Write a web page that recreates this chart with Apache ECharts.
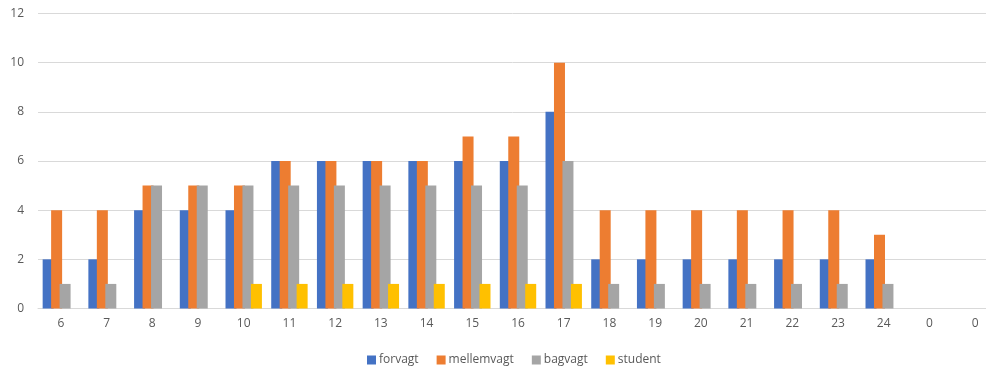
<!DOCTYPE html>
<html>
<head>
<meta charset="utf-8">
<script src="https://cdn.jsdelivr.net/npm/echarts@6/dist/echarts.min.js"></script>
<style>
  html, body { margin: 0; padding: 0; background: #fff; }
  #chart { width: 986px; height: 370px; }
</style>
</head>
<body>
<div id="chart"></div>
<script>
  // hours of the day
  const categories = ['6', '7', '8', '9', '10', '11', '12', '13', '14', '15', '16', '17', '18', '19', '20', '21', '22', '23', '24', '0', '0']
  const forvagt    = [2, 2, 4, 4, 4, 6, 6, 6, 6, 6, 6, 8, 2, 2, 2, 2, 2, 2, 2, 0, 0]
  const mellemvagt = [4, 4, 5, 5, 5, 6, 6, 6, 6, 7, 7, 10, 4, 4, 4, 4, 4, 4, 3, 0, 0]
  const bagvagt    = [1, 1, 5, 5, 5, 5, 5, 5, 5, 5, 5, 6, 1, 1, 1, 1, 1, 1, 1, 0, 0]
  const student    = [0, 0, 0, 0, 1, 1, 1, 1, 1, 1, 1, 1, 0, 0, 0, 0, 0, 0, 0, 0, 0]
  const seriesNames = ['forvagt', 'mellemvagt', 'bagvagt', 'student']
  const colors = ['#4472C4', '#ED7D31', '#A5A5A5', '#FFC000']

  const font = 'Open Sans, Noto Sans, sans-serif'
  const chart = echarts.init(document.getElementById('chart'))

  const bar = (name, data) => ({
    name: name,
    type: 'bar',
    data: data,
    barWidth: 11,
    barGap: '-23%',
    animation: false
  })

  chart.setOption({
    color: colors,
    animation: false,
    // plot runs a little past the right edge of the picture
    grid: { left: 38, width: 960, top: 13.5, height: 295, outerBoundsMode: 'none' },
    legend: {
      data: seriesNames,
      left: 362,
      top: 349,
      itemWidth: 9,
      itemHeight: 9,
      itemGap: 18,
      icon: 'rect',
      textStyle: { color: '#595959', fontSize: 12, fontFamily: font, padding: [0, 0, 0, -2] }
    },
    xAxis: {
      type: 'category',
      data: categories,
      axisLine: { lineStyle: { color: '#d9d9d9', width: 1 } },
      axisTick: { show: false },
      axisLabel: { color: '#595959', fontSize: 12, fontFamily: font, margin: 9 }
    },
    yAxis: {
      type: 'value',
      min: 0,
      max: 12,
      interval: 2,
      axisLine: { show: false },
      axisTick: { show: false },
      axisLabel: { color: '#595959', fontSize: 12, fontFamily: font, margin: 14 },
      splitLine: { lineStyle: { color: '#d9d9d9', width: 1 } }
    },
    series: [
      bar(seriesNames[0], forvagt),
      bar(seriesNames[1], mellemvagt),
      bar(seriesNames[2], bagvagt),
      bar(seriesNames[3], student)
    ]
  })
</script>
</body>
</html>
